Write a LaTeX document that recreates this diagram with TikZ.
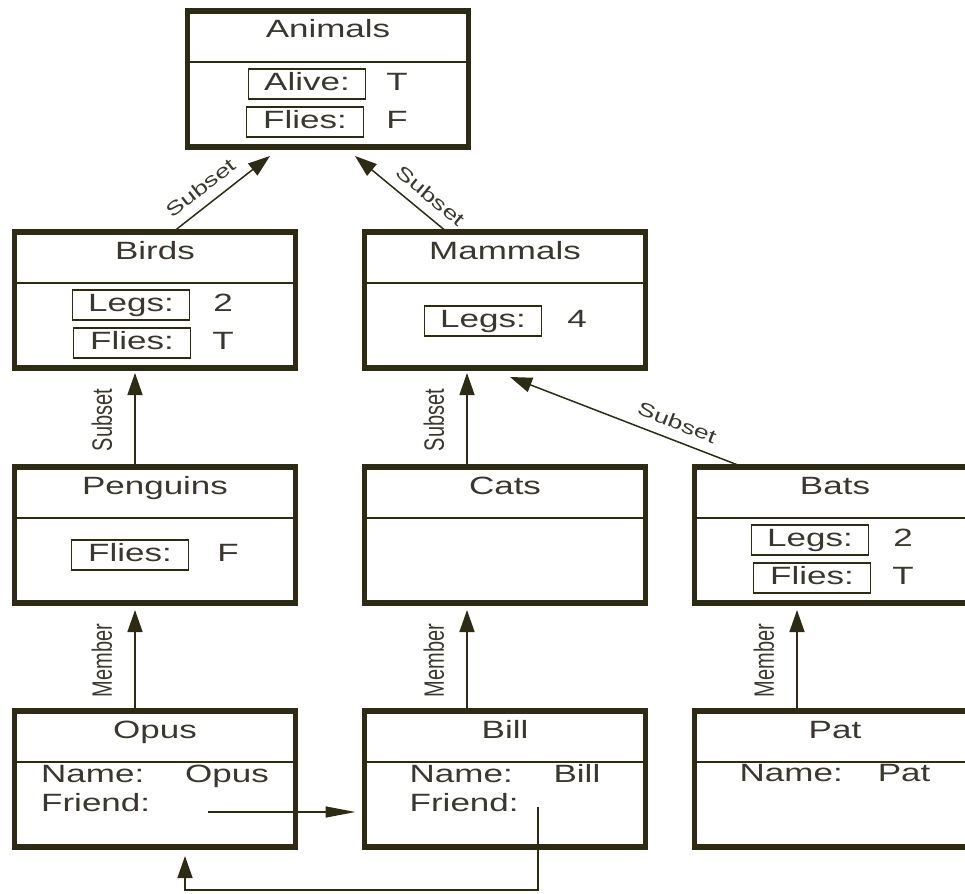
\documentclass[tikz,border=0pt]{standalone}
\usepackage{fontspec}
\setmainfont[FakeStretch=1.4]{Liberation Sans}
\newfontfamily\upfont[FakeStretch=0.714]{Liberation Sans}
\usepackage{xcolor}
\usetikzlibrary{arrows.meta,positioning,calc}
\definecolor{ink}{RGB}{46,43,20}
\definecolor{inktext}{RGB}{58,56,46}
\newcommand{\mainsize}{\fontsize{25}{29}\selectfont}

\tikzset{
  classbox/.style={draw=ink, line width=5.5pt, minimum width=281pt, minimum height=136pt, inner sep=0pt, outer sep=0pt},
  divider/.style={draw=ink, line width=1.6pt},
  classtitle/.style={anchor=base, text=inktext, font=\mainsize},
  slot/.style={draw=ink, line width=1.6pt, minimum width=117pt, minimum height=30pt, inner sep=0pt,
    text height=18pt, text depth=5pt, text=inktext, font=\mainsize},
  slotval/.style={inner sep=0pt, text height=18pt, text depth=5pt, text=inktext, font=\mainsize},
  linkarrow/.style={draw=ink, line width=1.5pt, -{Triangle[length=22pt,width=15pt]}},
  uplabel/.style={midway, sloped, above=21pt, inner sep=1pt, text=inktext, font=\upfont\fontsize{28}{30}\selectfont},
  slantlabel/.style={sloped, above=9pt, inner sep=1pt, text=inktext, font=\fontsize{19}{22}\selectfont},
}

\begin{document}
\begin{tikzpicture}[x=1pt, y=-1pt]
\useasboundingbox (0,0) rectangle (965,893);
\clip (0,0) rectangle (965,893);

% Class and instance frames
\node[classbox] (animals)  at (328,79)  {};
\node[classbox] (birds)    at (155,300) {};
\node[classbox] (mammals)  at (505,300) {};
\node[classbox] (penguins) at (155,535) {};
\node[classbox] (cats)     at (505,535) {};
\node[classbox] (bats)     at (835,535) {};
\node[classbox] (opus)     at (155,779) {};
\node[classbox] (bill)     at (505,779) {};
\node[classbox] (pat)      at (835,779) {};

% Title rows
\foreach \f/\t in {animals/Animals, birds/Birds, mammals/Mammals, penguins/Penguins,
                   cats/Cats, bats/Bats, opus/Opus, bill/Bill, pat/Pat} {
  \draw[divider] ($(\f.north west)+(0,51)$) -- ($(\f.north east)+(0,51)$);
  \node[classtitle] (\f-title) at ($(\f.north)+(0,27)$) {\t};
}

% Animals slots
\node[slot]    (animals-alive)   at ($(animals)+(-21,5)$)  {Alive:};
\node[slotval] (animals-alive-v) at ($(animals)+(69,5)$)   {T};
\node[slot]    (animals-flies)   at ($(animals)+(-23,43)$) {Flies:};
\node[slotval] (animals-flies-v) at ($(animals)+(69,43)$)  {F};

% Birds slots
\node[slot]    (birds-legs)    at ($(birds)+(-24,5)$)  {Legs:};
\node[slotval] (birds-legs-v)  at ($(birds)+(68,5)$)   {2};
\node[slot]    (birds-flies)   at ($(birds)+(-23,43)$) {Flies:};
\node[slotval] (birds-flies-v) at ($(birds)+(68,43)$)  {T};

% Mammals slot
\node[slot]    (mammals-legs)   at ($(mammals)+(-22,21)$) {Legs:};
\node[slotval] (mammals-legs-v) at ($(mammals)+(72,21)$)  {4};

% Penguins slot
\node[slot]    (penguins-flies)   at ($(penguins)+(-25,20)$) {Flies:};
\node[slotval] (penguins-flies-v) at ($(penguins)+(73,20)$)  {F};

% Bats slots
\node[slot]    (bats-legs)    at ($(bats)+(-25,5)$)  {Legs:};
\node[slotval] (bats-legs-v)  at ($(bats)+(68,5)$)   {2};
\node[slot]    (bats-flies)   at ($(bats)+(-23,43)$) {Flies:};
\node[slotval] (bats-flies-v) at ($(bats)+(68,43)$)  {T};

% Instance slots
\node[text=inktext, font=\mainsize] (opus-slots) at ($(opus)+(0,12)$)
  {\begin{tabular}{@{}l@{\hspace{35pt}}l@{}}Name: & Opus\\ Friend: & \end{tabular}};
\node[text=inktext, font=\mainsize] (bill-slots) at ($(bill)+(0,12)$)
  {\begin{tabular}{@{}l@{\hspace{35pt}}l@{}}Name: & Bill\\ Friend: & \end{tabular}};
\node[text=inktext, font=\mainsize] (pat-slots) at ($(pat)+(0,-3)$)
  {\begin{tabular}{@{}l@{\hspace{35pt}}l@{}}Name: & Pat\end{tabular}};

% Subset links
\draw[linkarrow] ($(birds.north)+(18,0)$) -- node[slantlabel, pos=0.4] (birds-up) {Subset} ($(animals.south)+(-58,9)$);
\draw[linkarrow] ($(mammals.north)+(-58,0)$) -- node[slantlabel, pos=0.3] (mammals-up) {Subset} ($(animals.south)+(27,9)$);
\draw[linkarrow] ($(penguins.north)+(-20,0)$) -- node[uplabel] (penguins-up) {Subset} ($(birds.south)+(-20,5)$);
\draw[linkarrow] ($(cats.north)+(-38,0)$) -- node[uplabel] (cats-up) {Subset} ($(mammals.south)+(-38,5)$);
\draw[linkarrow] ($(bats.north)+(-92,0)$) -- node[slantlabel, pos=0.31] (bats-up) {Subset} ($(mammals.south)+(5,9)$);

% Member links
\draw[linkarrow] ($(opus.north)+(-20,0)$) -- node[uplabel] (opus-up) {Member} ($(penguins.south)+(-20,7)$);
\draw[linkarrow] ($(bill.north)+(-38,0)$) -- node[uplabel] (bill-up) {Member} ($(cats.south)+(-38,7)$);
\draw[linkarrow] ($(pat.north)+(-38,0)$) -- node[uplabel] (pat-up) {Member} ($(bats.south)+(-38,7)$);

% Friend pointers
\coordinate (opus-friend) at ($(opus)+(53,33)$);
\coordinate (bill-friend) at ($(bill)+(33,28)$);
\draw[linkarrow, -{Triangle[length=30pt,width=11pt]}, shorten >=9pt] (opus-friend) -- (opus-friend -| bill.west);
\draw[linkarrow] (bill-friend) -- ++(0,83) -| ($(opus.south)+(30,9)$);

\end{tikzpicture}
\end{document}
